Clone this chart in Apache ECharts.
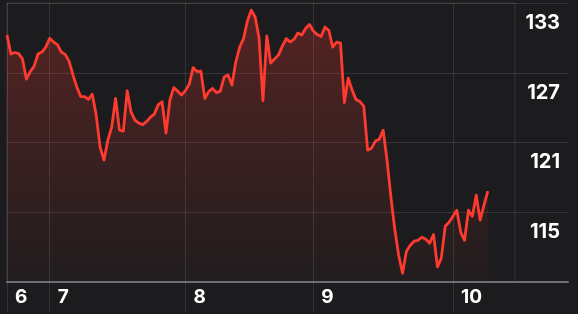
<!DOCTYPE html>
<html>
<head>
<meta charset="utf-8">
<script src="https://cdn.jsdelivr.net/npm/echarts@6/dist/echarts.min.js"></script>
<style>
html,body{margin:0;padding:0;background:#1c1c1e;}
#chart{width:578px;height:314px;}
</style>
</head>
<body>
<div id="chart"></div>
<script>
// Price series (evenly spaced samples)
const prices = [
131.94,130.31,130.44,130.35,129.88,128.15,128.80,129.27,130.31,130.48,
130.91,131.66,131.34,131.12,130.48,130.28,129.70,128.54,127.47,126.65,
126.65,126.41,126.86,125.06,122.30,121.18,122.90,124.02,126.49,123.76,
123.68,127.15,125.31,124.62,124.37,124.24,124.50,124.88,125.14,125.96,
126.20,123.51,126.35,127.42,127.12,126.78,127.16,127.72,129.14,128.80,
128.84,126.49,127.08,127.35,126.99,127.12,128.33,128.50,127.64,129.62,
130.91,131.64,133.15,134.09,133.49,131.68,126.29,131.86,129.53,129.88,
130.22,130.99,131.64,131.36,131.57,132.11,131.94,132.50,132.85,132.29,
131.98,131.81,132.63,132.33,130.91,131.34,131.25,126.13,128.24,127.21,
126.39,126.22,125.83,122.04,122.21,122.82,122.99,123.76,121.18,118.00,
115.24,113.00,111.45,113.35,113.86,114.21,114.29,114.55,114.38,114.04,
114.79,112.00,112.75,115.50,115.84,116.36,116.88,114.98,114.29,116.88,
116.36,118.17,116.02,117.31,118.51
];
// Day labels and the sample index at which each day starts
const dayLabels = ['6', '7', '8', '9', '10'];
const dayStartIndex = [0, 11, 46, 79, 115];
// Total number of time slots on the axis (the day is not finished)
const slotCount = 132;
// Y-axis tick labels
const yTickLabels = [115, 121, 127, 133];
// Value range of the plot
const yMin = 110.7, yMax = 134.7, yStep = 6;

const categories = [];
for (let i = 0; i < slotCount; i++) {
  const k = dayStartIndex.indexOf(i);
  categories.push(k >= 0 ? dayLabels[k] : '');
}
const isDayStart = (i) => dayStartIndex.indexOf(i) >= 0;

const gridColor = 'rgba(255,255,255,0.11)';
const labelFont = {color: '#ffffff', fontWeight: 'bold', fontFamily: 'Inter, Roboto, sans-serif'};
const chart = echarts.init(document.getElementById('chart'), null, {renderer: 'canvas'});
chart.setOption({
  backgroundColor: '#1c1c1e',
  animation: false,
  grid: [
    {left: 7, right: 10, top: 3, bottom: 32},
    {left: 7, right: 63, top: 3, bottom: 32, show: true, borderColor: gridColor, borderWidth: 1, backgroundColor: 'transparent'}
  ],
  xAxis: [
    {
      type: 'category', gridIndex: 1, data: categories, boundaryGap: false,
      axisLine: {show: false},
      axisTick: {show: true, interval: (i) => isDayStart(i), length: 30, lineStyle: {color: gridColor, width: 1}},
      splitLine: {show: true, interval: (i) => isDayStart(i), lineStyle: {color: gridColor, width: 1}},
      axisLabel: Object.assign({
        show: true, interval: (i) => isDayStart(i), align: 'left', padding: [0, 0, 0, 8],
        margin: 6, fontSize: 19
      }, labelFont)
    },
    {
      type: 'value', gridIndex: 0, min: 0, max: 1,
      axisLine: {show: true, onZero: false, lineStyle: {color: '#6e6e73', width: 2}},
      axisTick: {show: false}, axisLabel: {show: false}, splitLine: {show: false}
    }
  ],
  yAxis: [
    {
      type: 'value', gridIndex: 0, min: yMin, max: yMax, interval: yStep,
      axisLine: {show: false}, axisTick: {show: false}, axisLabel: {show: false},
      splitLine: {show: true, lineStyle: {color: gridColor, width: 1}}
    },
    {
      type: 'value', gridIndex: 0, min: yMin, max: yMax, position: 'right',
      axisLine: {show: false}, axisTick: {show: false}, splitLine: {show: false},
      axisLabel: Object.assign({
        show: true, inside: true, margin: 8, customValues: yTickLabels, fontSize: 20
      }, labelFont)
    },
    {
      type: 'value', gridIndex: 1, min: yMin, max: yMax,
      axisLine: {show: false}, axisTick: {show: false}, axisLabel: {show: false}, splitLine: {show: false}
    }
  ],
  series: [{
    type: 'line', xAxisIndex: 0, yAxisIndex: 2, data: prices,
    showSymbol: false, symbol: 'none',
    lineStyle: {color: '#ff3b30', width: 2.8, join: 'round'},
    areaStyle: {
      origin: 'start',
      color: new echarts.graphic.LinearGradient(0, 0, 0, 1, [
        {offset: 0, color: 'rgba(255,59,48,0.36)'},
        {offset: 1, color: 'rgba(255,59,48,0.03)'}
      ])
    }
  }]
});
</script>
</body>
</html>
